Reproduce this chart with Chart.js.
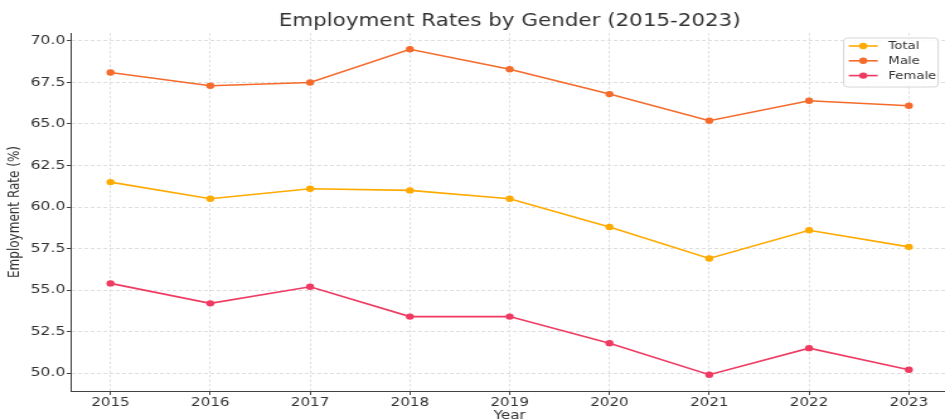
<!DOCTYPE html>
<html>
<head>
<meta charset="utf-8">
<title>Employment Rates by Gender (2015-2023)</title>
<script src="https://cdn.jsdelivr.net/npm/chart.js@4"></script>
<style>
  html, body { margin: 0; padding: 0; background: #fff; overflow: hidden; }
  #wrap { width: 757px; height: 423px; transform: scaleX(1.26); transform-origin: 0 0; }
</style>
</head>
<body>
<div id="wrap"><canvas id="myChart" width="757" height="423"></canvas></div>
<script>
const years = [2015, 2016, 2017, 2018, 2019, 2020, 2021, 2022, 2023];
const totalRates = [61.5, 60.5, 61.1, 61.0, 60.5, 58.8, 56.9, 58.6, 57.6];
const maleRates = [68.1, 67.3, 67.5, 69.5, 68.3, 66.8, 65.2, 66.4, 66.1];
const femaleRates = [55.4, 54.2, 55.2, 53.4, 53.4, 51.8, 49.9, 51.5, 50.2];
const yTicks = [50.0, 52.5, 55.0, 57.5, 60.0, 62.5, 65.0, 67.5, 70.0];

document.addEventListener("DOMContentLoaded", function () {
  const ctx = document.getElementById("myChart").getContext("2d");
  const font = "'DejaVu Sans', sans-serif";
  const textColor = "#333333";

  function series(label, values, color) {
    return {
      label: label,
      data: years.map((year, i) => ({ x: year, y: values[i] })),
      borderColor: color,
      backgroundColor: color,
      borderWidth: 1.6,
      pointRadius: 3.2,
      pointBorderWidth: 0,
      tension: 0,
    };
  }

  // legend box drawn inside the top right corner of the plot
  const cornerLegend = {
    id: "cornerLegend",
    afterDatasetsDraw(chart) {
      const c = chart.ctx;
      const area = chart.chartArea;
      const right = area.right - 8.4;
      const left = right - 75;
      const top = area.top + 5;
      const height = 49;
      c.save();
      c.beginPath();
      c.roundRect(left, top, right - left, height, 3);
      c.fillStyle = "rgba(255,255,255,0.85)";
      c.fill();
      c.strokeStyle = "#d6d6d6";
      c.lineWidth = 1;
      c.stroke();
      c.font = "10.5px " + font;
      c.textBaseline = "middle";
      chart.data.datasets.forEach((ds, i) => {
        const y = top + 8 + i * 14.8;
        c.strokeStyle = ds.borderColor;
        c.lineWidth = 1.6;
        c.beginPath();
        c.moveTo(left + 4, y);
        c.lineTo(left + 27, y);
        c.stroke();
        c.fillStyle = ds.borderColor;
        c.beginPath();
        c.arc(left + 15.5, y, 3.2, 0, Math.PI * 2);
        c.fill();
        c.fillStyle = textColor;
        c.fillText(ds.label, left + 35.5, y + 0.5);
      });
      c.restore();
    },
  };

  const config = {
    type: "line",
    data: {
      datasets: [
        series("Total", totalRates, "#ffaa00"),
        series("Male", maleRates, "#f46b2b"),
        series("Female", femaleRates, "#ef3b62"),
      ],
    },
    options: {
      responsive: false,
      animation: false,
      devicePixelRatio: 1,
      layout: { padding: { left: 0, right: 0, top: 0, bottom: 0 } },
      plugins: {
        legend: { display: false },
        tooltip: { enabled: false },
        title: {
          display: true,
          fullSize: false,
          text: "Employment Rates by Gender (2015-2023)",
          color: textColor,
          font: { family: font, size: 17, weight: "normal", lineHeight: 1.2 },
          padding: { top: 11, bottom: 1.6 },
        },
      },
      scales: {
        x: {
          type: "linear",
          min: 2014.6,
          max: 2023.4,
          afterBuildTicks: (scale) => {
            scale.ticks = years.map((v) => ({ value: v }));
          },
          afterFit: (scale) => {
            scale.height = 32;
          },
          ticks: {
            color: textColor,
            font: { family: font, size: 12 },
            padding: 1,
            maxRotation: 0,
            callback: (v) => String(v),
          },
          grid: { color: "#dedede", tickColor: "#444", tickLength: 4 },
          border: { display: true, color: "#444", width: 1, dash: [2.5, 2] },
          title: {
            display: true,
            text: "Year",
            color: textColor,
            font: { family: font, size: 12 },
            padding: { top: 0, bottom: 0 },
          },
        },
        y: {
          min: 48.92,
          max: 70.48,
          afterBuildTicks: (scale) => {
            scale.ticks = yTicks.map((v) => ({ value: v }));
          },
          afterFit: (scale) => {
            scale.width = 56;
          },
          ticks: {
            color: textColor,
            font: { family: font, size: 12.5 },
            padding: 1,
            callback: (v) => Number(v).toFixed(1),
          },
          grid: { color: "#dedede", tickColor: "#444", tickLength: 3 },
          border: { display: true, color: "#444", width: 1, dash: [3, 2] },
          title: {
            display: true,
            text: "Employment Rate (%)",
            color: textColor,
            font: { family: font, size: 12 },
            padding: { top: 5, bottom: 0 },
          },
        },
      },
    },
    plugins: [cornerLegend],
  };

  new Chart(ctx, config);
});
</script>
</body>
</html>
